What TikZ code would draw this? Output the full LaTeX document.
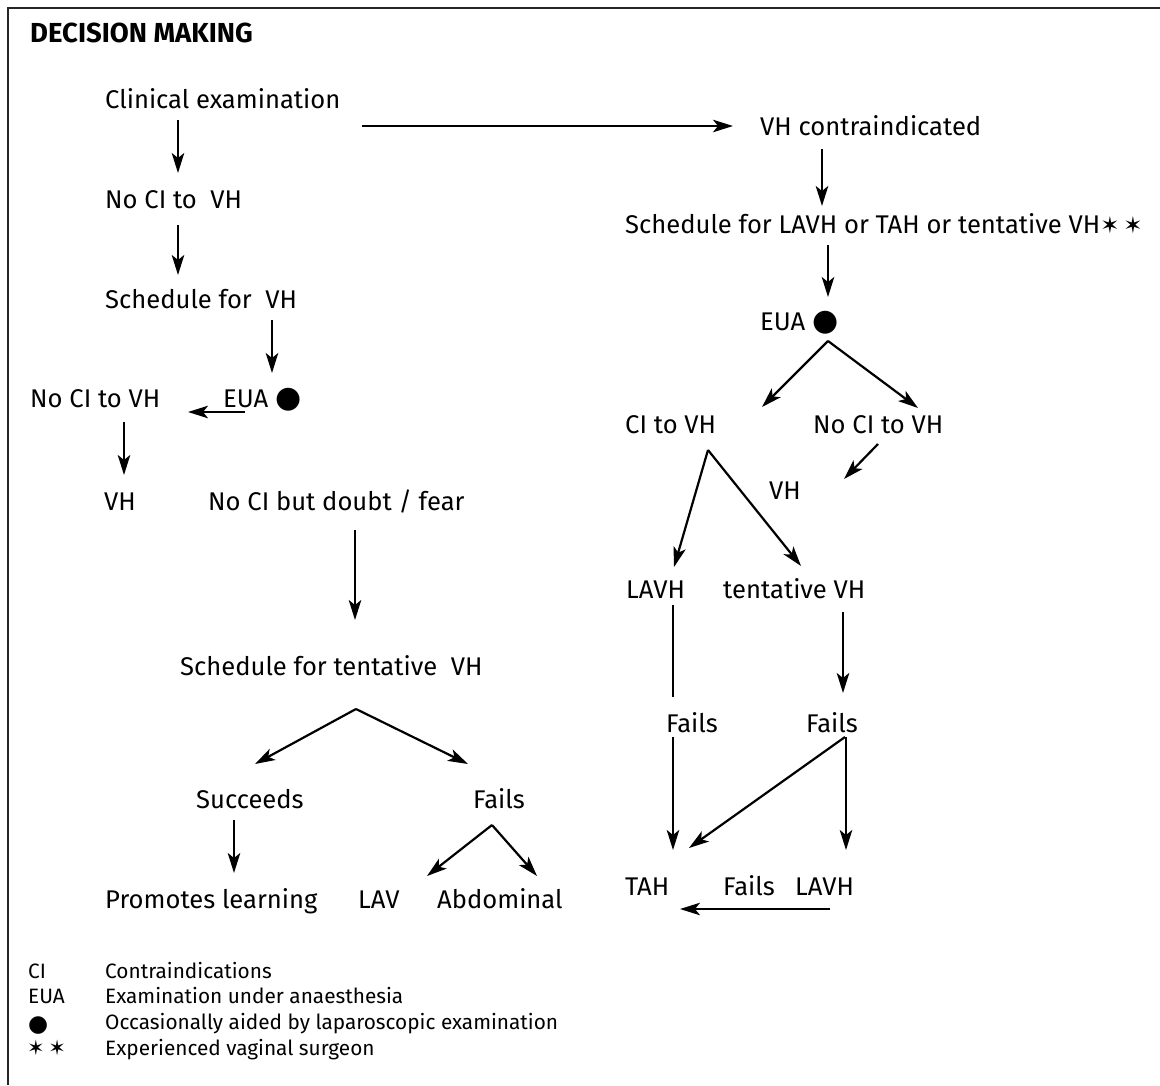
\documentclass[tikz,border=0pt]{standalone}
\usepackage{fontspec}
\setmainfont{Fira Sans}
\newfontfamily\symfont{DejaVu Sans}
\usetikzlibrary{calc,arrows.meta}
\newcommand{\bdot}{{\symfont\fontsize{30}{30}\selectfont ●}}
\newcommand{\sdot}{{\symfont\fontsize{23}{23}\selectfont ●}}
\newcommand{\stars}{{\symfont\fontsize{23}{23}\selectfont ✶\,✶}}
\newcommand{\lstars}{{\symfont\fontsize{21}{21}\selectfont ✶\,✶}}
\begin{document}
\begin{tikzpicture}[x=1pt,y=-1pt,
  txt/.style={anchor=base west,inner sep=0pt,font=\fontsize{25.6}{30}\selectfont},
  ttl/.style={anchor=base west,inner sep=0pt,font=\fontsize{27.5}{30}\selectfont\bfseries},
  leg/.style={anchor=base west,inner sep=0pt,font=\fontsize{20.8}{26}\selectfont},
  arr/.style={line width=2.2pt,-{Stealth[length=20pt,width=12.5pt,inset=5pt]}},
  ln/.style={line width=2.2pt},
  frame/.style={line width=1.6pt,black!85}]
\useasboundingbox (0,0) rectangle (1160,1085);
\coordinate (fr1) at (8,1085);
\coordinate (fr2) at (8,8);
\coordinate (fr3) at (1160,8);
\draw[frame] (fr1) -- (fr2) -- (fr3);

\node[ttl] (title) at (30,42) {DECISION MAKING};
% left column
\node[txt] (ce) at (105,108) {Clinical examination};
\node[txt] (n1) at (105,208) {No CI to\ \ VH};
\node[txt] (s1) at (105,308) {Schedule for\ \ VH};
\node[txt] (n2) at (30,407) {No CI to VH};
\node[txt] (eua1) at (223,407) {EUA \bdot};
\node[txt] (vh1) at (104,510) {VH};
\node[txt] (doubt) at (208,510) {No CI but doubt / fear};
\node[txt] (s2) at (180,675) {Schedule for tentative\ \ VH};
\node[txt] (succ) at (196,808) {Succeeds};
\node[txt] (fails1) at (473,808) {Fails};
\node[txt] (prom) at (105,908) {Promotes learning};
\node[txt] (lav) at (358,908) {LAV};
\node[txt] (abd) at (437,908) {Abdominal};
% right column
\node[txt] (vhc) at (760,135) {VH contraindicated};
\node[txt] (s3) at (625,233) {Schedule for LAVH or TAH or tentative VH\stars};
\node[txt] (eua2) at (760,330) {EUA \bdot};
\node[txt] (ci) at (625,433) {CI to VH};
\node[txt] (n3) at (813,433) {No CI to VH};
\node[txt] (vh2) at (769,499) {VH};
\node[txt] (lavh1) at (626,598) {LAVH};
\node[txt] (tent) at (723,598) {tentative VH};
\node[txt] (fa) at (666,732) {Fails};
\node[txt] (fb) at (806,732) {Fails};
\node[txt] (tah) at (625,895) {TAH};
\node[txt] (fc) at (723,895) {Fails};
\node[txt] (lavh2) at (795,895) {LAVH};
% legend
\node[leg] (k1) at (28,978) {CI};
\node[leg] (d1) at (105,978) {Contraindications};
\node[leg] (k2) at (28,1003) {EUA};
\node[leg] (d2) at (105,1003) {Examination under anaesthesia};
\node[leg] (k3) at (28,1031) {\sdot};
\node[leg] (d3) at (105,1029) {Occasionally aided by laparoscopic examination};
\node[leg] (k4) at (27,1055) {\lstars};
\node[leg] (d4) at (105,1055) {Experienced vaginal surgeon};

% connectors left
\draw[arr] ($(ce.base west)+(73,12)$) -- ($(n1.base west)+(73,-35)$);
\draw[arr] ($(n1.base west)+(73,17)$) -- ($(s1.base west)+(73,-33)$);
\draw[arr] ($(s1.base west)+(167,12)$) -- ($(eua1.base west)+(49,-34)$);
\draw[arr] ($(eua1.base west)+(22,5)$) -- ($(n2.base west)+(158,5)$);
\draw[arr] ($(n2.base west)+(94,15)$) -- ($(vh1.base west)+(20,-35)$);
\draw[arr] ($(doubt.base west)+(147,20)$) -- ($(s2.base west)+(175,-55)$);
\draw[arr] ($(s2.base west)+(176,34)$) -- ($(succ.base west)+(59,-44)$);
\draw[arr] ($(s2.base west)+(176,34)$) -- ($(fails1.base west)+(-5,-44)$);
\draw[arr] ($(succ.base west)+(38,12)$) -- ($(prom.base west)+(129,-35)$);
\draw[arr] ($(fails1.base west)+(19,17)$) -- ($(lav.base west)+(69,-32)$);
\draw[arr] ($(fails1.base west)+(19,17)$) -- ($(abd.base west)+(100,-32)$);
% connectors right
\draw[arr] ($(ce.base west)+(257,18)$) -- ($(vhc.base west)+(-27,-9)$);
\draw[arr] ($(vhc.base west)+(62,14)$) -- ($(s3.base west)+(197,-27)$);
\draw[arr] ($(s3.base west)+(203,12)$) -- ($(eua2.base west)+(68,-33)$);
\draw[arr] ($(eua2.base west)+(68,11)$) -- ($(ci.base west)+(137,-26)$);
\draw[arr] ($(eua2.base west)+(68,11)$) -- ($(n3.base west)+(105,-25)$);
\draw[arr] ($(n3.base west)+(65,11)$) -- ($(vh2.base west)+(75,-20)$);
\draw[arr] ($(ci.base west)+(83,17)$) -- ($(lavh1.base west)+(48,-31)$);
\draw[arr] ($(ci.base west)+(83,17)$) -- ($(tent.base west)+(78,-32)$);
\draw[ln] ($(lavh1.base west)+(47,7)$) -- ($(fa.base west)+(7,-35)$);
\draw[arr] ($(tent.base west)+(120,14)$) -- ($(fb.base west)+(37,-39)$);
\draw[arr] ($(fa.base west)+(7,5)$) -- ($(tah.base west)+(48,-45)$);
\draw[arr] ($(fb.base west)+(39,5)$) -- ($(tah.base west)+(64,-47)$);
\draw[arr] ($(fb.base west)+(40,5)$) -- ($(lavh2.base west)+(51,-45)$);
\draw[arr] ($(lavh2.base west)+(35,14)$) -- ($(tah.base west)+(55,14)$);
\end{tikzpicture}
\end{document}
